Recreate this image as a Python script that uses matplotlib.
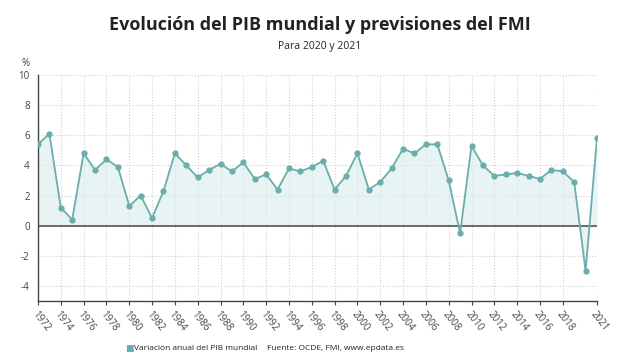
import numpy as np
import matplotlib
matplotlib.use('Agg')
import matplotlib.pyplot as plt

plt.rcParams['font.family'] = ['Open Sans', 'DejaVu Sans']

years = list(range(1972, 2022))
pib = [5.4, 6.1, 1.2, 0.4, 4.8, 3.7, 4.4, 3.9, 1.3, 2.0,
       0.5, 2.3, 4.8, 4.0, 3.2, 3.7, 4.1, 3.6, 4.2, 3.1,
       3.4, 2.4, 3.8, 3.6, 3.9, 4.3, 2.4, 3.3, 4.8, 2.4,
       2.9, 3.8, 5.1, 4.8, 5.4, 5.4, 3.0, -0.5, 5.3, 4.0,
       3.3, 3.4, 3.5, 3.3, 3.1, 3.7, 3.6, 2.9, -3.0, 5.8]
xticks = list(range(1972, 2019, 2)) + [2021]
yticks = [-4, -2, 0, 2, 4, 6, 8, 10]

col = '#6aaeab'

fig = plt.figure(figsize=(6.4, 3.6), dpi=100)
ax = fig.add_axes([38/640, 1-301/360, (597-38)/640, (301-75)/360])

ax.fill_between(years, pib, 0, color='#d9ecee', alpha=0.6, lw=0)
ax.plot(years, pib, color=col, lw=1.3, marker='o', ms=3.5, zorder=3)
ax.axhline(0, color='#555555', lw=1.2, zorder=2)

ax.set_xlim(1972, 2021)
ax.set_ylim(-5, 10)
ax.set_xticks(xticks)
ax.set_xticklabels([str(y) for y in xticks], rotation=-52, ha='left', va='top',
                   rotation_mode='anchor', fontsize=7, color='#444444')
ax.set_yticks(yticks)
ax.set_yticklabels([str(y) for y in yticks], fontsize=7, color='#444444')
ax.tick_params(axis='x', length=3, color='#444444', pad=3)
ax.tick_params(axis='y', length=0, pad=6)
ax.grid(True, color='#d0d0d0', ls=':', lw=0.8)
ax.set_axisbelow(True)
for s in ['top', 'right']:
    ax.spines[s].set_visible(False)
ax.spines['left'].set_color('#444444')
ax.spines['bottom'].set_color('#444444')
ax.spines['left'].set_linewidth(1.0)
ax.spines['bottom'].set_linewidth(1.0)

fig.text(0.5, 1-25/360, 'Evolución del PIB mundial y previsiones del FMI',
         ha='center', va='center', fontsize=13, fontweight='bold', color='#222222')
fig.text(0.5, 1-46/360, 'Para 2020 y 2021', ha='center', va='center',
         fontsize=7.5, color='#222222')
fig.text(26/640, 1-64/360, '%', ha='center', va='center', fontsize=7, color='#444444')

fig.text(129/640, 1-348/360, '■', ha='center', va='center', fontsize=6.5, color=col)
fig.text(134/640, 1-348/360, 'Variación anual del PIB mundial', ha='left', va='center',
         fontsize=6, color='#222222')
fig.text(267/640, 1-348/360, 'Fuente: OCDE, FMI, www.epdata.es', ha='left', va='center',
         fontsize=6, color='#222222')

fig.savefig('out.png', dpi=100, facecolor='white')
